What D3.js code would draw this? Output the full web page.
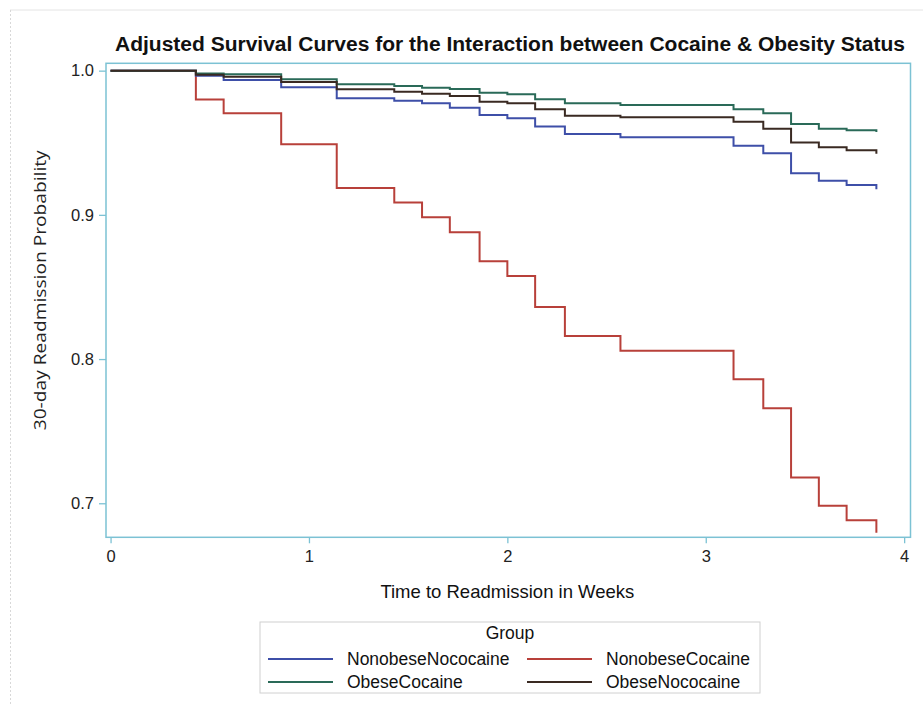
<!DOCTYPE html>
<html>
<head>
<meta charset="utf-8">
<script src="https://cdn.jsdelivr.net/npm/d3@7"></script>
<style>
  html, body { margin: 0; padding: 0; background: #fff; }
  svg { display: block; }
</style>
</head>
<body>
<svg id="chart" width="923" height="704"></svg>
<script>
// ---- data ----
const times = [0, 0.43, 0.57, 0.86, 1.14, 1.43, 1.57, 1.71, 1.86, 2.00, 2.14, 2.29, 2.57, 3.14, 3.29, 3.43, 3.57, 3.71, 3.86];
const groups = ["NonobeseNococaine", "NonobeseCocaine", "ObeseCocaine", "ObeseNococaine"];
const nonobeseNococaine = [1.0, 0.9965, 0.9935, 0.9885, 0.9809, 0.9792, 0.9774, 0.9743, 0.9693, 0.9670, 0.9612, 0.9561, 0.9538, 0.9480, 0.9427, 0.9288, 0.9237, 0.9207, 0.9178];
const nonobeseCocaine   = [1.0, 0.9800, 0.9705, 0.9490, 0.9187, 0.9085, 0.8983, 0.8879, 0.8678, 0.8576, 0.8361, 0.8160, 0.8058, 0.7860, 0.7659, 0.7178, 0.6983, 0.6882, 0.6796];
const obeseCocaine      = [1.0, 0.9980, 0.9975, 0.9940, 0.9906, 0.9894, 0.9882, 0.9873, 0.9847, 0.9836, 0.9802, 0.9774, 0.9762, 0.9732, 0.9705, 0.9630, 0.9598, 0.9587, 0.9575];
const obeseNococaine    = [1.0, 0.9972, 0.9958, 0.9922, 0.9871, 0.9854, 0.9840, 0.9825, 0.9785, 0.9774, 0.9732, 0.9688, 0.9677, 0.9646, 0.9598, 0.9501, 0.9469, 0.9448, 0.9424];
const xTicks = [0, 1, 2, 3, 4];
const yTicks = [0.7, 0.8, 0.9, 1.0];
const colors = ["#3e4fa8", "#b8403a", "#2a6a58", "#3a2a22"];

const seriesValues = [nonobeseNococaine, nonobeseCocaine, obeseCocaine, obeseNococaine];
const series = groups.map((g, i) => ({
  name: g, color: colors[i],
  points: times.map((t, j) => ({ t, s: seriesValues[i][j] }))
}));

const svg = d3.select("#chart");
const frame = { left: 106, right: 910.5, top: 63.3, bottom: 537.3 };

const x = d3.scaleLinear().domain([-0.023, 4.032]).range([frame.left, frame.right]);
const y = d3.scaleLinear().domain([0.6764, 1.0051]).range([frame.bottom, frame.top]);

// faint outer border
svg.append("line").attr("x1", 10).attr("x2", 923).attr("y1", 10).attr("y2", 10)
  .attr("stroke", "#e4e4e4").attr("stroke-width", 1);
svg.append("line").attr("x1", 10.5).attr("x2", 10.5).attr("y1", 10).attr("y2", 704)
  .attr("stroke", "#d8d8d8").attr("stroke-width", 1).attr("stroke-dasharray", "2,2");

// title
svg.append("text")
  .attr("x", 510).attr("y", 51)
  .attr("text-anchor", "middle")
  .attr("font-family", "Liberation Sans, Arial, sans-serif")
  .attr("font-weight", "bold")
  .attr("font-size", 20)
  .attr("textLength", 790).attr("lengthAdjust", "spacingAndGlyphs")
  .attr("fill", "#111")
  .text("Adjusted Survival Curves for the Interaction between Cocaine & Obesity Status");

const axisColor = "#7cc2d4";

// axes
const gy = svg.append("g").attr("transform", `translate(${frame.left},0)`)
  .call(d3.axisLeft(y).tickValues(yTicks).tickFormat(d3.format(".1f")).tickSize(7).tickPadding(5));
const gx = svg.append("g").attr("transform", `translate(0,${frame.bottom})`)
  .call(d3.axisBottom(x).tickValues(xTicks).tickFormat(d3.format("d")).tickSize(6).tickPadding(7));
[gy, gx].forEach(g => {
  g.select(".domain").remove();
  g.selectAll(".tick line").attr("stroke", axisColor).attr("stroke-width", 1.3);
  g.selectAll(".tick text").attr("fill", "#222")
    .attr("font-family", "Liberation Sans, Arial, sans-serif").attr("font-size", 16.5);
});

// frame
svg.append("rect")
  .attr("x", frame.left).attr("y", frame.top)
  .attr("width", frame.right - frame.left).attr("height", frame.bottom - frame.top)
  .attr("fill", "none").attr("stroke", axisColor).attr("stroke-width", 1.5);

// axis labels
svg.append("text")
  .attr("x", (x(0) + x(4)) / 2).attr("y", 598)
  .attr("text-anchor", "middle")
  .attr("font-family", "Liberation Sans, Arial, sans-serif")
  .attr("font-size", 18.5).attr("fill", "#111")
  .text("Time to Readmission in Weeks");

svg.append("text")
  .attr("transform", `translate(46,${(frame.top + frame.bottom) / 2 - 10}) rotate(-90)`)
  .attr("text-anchor", "middle")
  .attr("font-family", "Open Sans, Noto Sans, sans-serif")
  .attr("font-size", 17).attr("fill", "#222")
  .attr("textLength", 280).attr("lengthAdjust", "spacingAndGlyphs")
  .text("30-day Readmission Probability");

// curves
const line = d3.line()
  .x(d => x(d.t)).y(d => y(d.s))
  .curve(d3.curveStepAfter);

// draw in order so black sits over others at the start
const drawOrder = [1, 0, 2, 3];
svg.append("g").selectAll("path")
  .data(drawOrder.map(i => series[i]))
  .join("path")
  .attr("d", d => line(d.points))
  .attr("fill", "none")
  .attr("stroke", d => d.color)
  .attr("stroke-width", 2);

// legend
const legend = svg.append("g");
legend.append("rect")
  .attr("x", 260).attr("y", 622).attr("width", 500).attr("height", 71)
  .attr("fill", "#fff").attr("stroke", "#d0d0d0").attr("stroke-width", 1);
legend.append("text")
  .attr("x", 510).attr("y", 639)
  .attr("text-anchor", "middle")
  .attr("font-family", "Liberation Sans, Arial, sans-serif")
  .attr("font-size", 17.5).attr("fill", "#111")
  .text("Group");
const legendPos = [
  { lx: 268, ty: 659 }, { lx: 527, ty: 659 },
  { lx: 268, ty: 682 }, { lx: 527, ty: 682 }
];
const items = legend.selectAll("g.item").data(series).join("g").attr("class", "item")
  .attr("transform", (d, i) => `translate(${legendPos[i].lx},${legendPos[i].ty})`);
items.append("line")
  .attr("x1", 0).attr("x2", 65).attr("y1", 0).attr("y2", 0)
  .attr("stroke", d => d.color).attr("stroke-width", 2);
items.append("text")
  .attr("x", 79).attr("y", 6)
  .attr("font-family", "Liberation Sans, Arial, sans-serif")
  .attr("font-size", 17.5).attr("fill", "#111")
  .text(d => d.name);
</script>
</body>
</html>
